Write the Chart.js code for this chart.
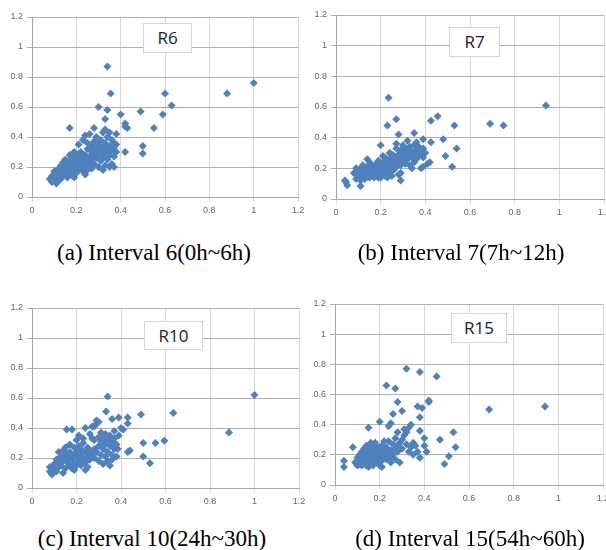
<!DOCTYPE html>
<html>
<head>
<meta charset="utf-8">
<script src="https://cdn.jsdelivr.net/npm/chart.js@4.4.0/dist/chart.umd.min.js"></script>
<style>
  html, body { margin: 0; padding: 0; background: #fff; width: 606px; height: 550px; overflow: hidden; position: relative; }
  canvas { position: absolute; }
  .tag {
    position: absolute; box-sizing: border-box; background: #fff;
    border: 1px solid #d4d4d4; font-family: 'Open Sans', sans-serif;
    font-size: 17px; color: #222; text-align: center;
  }
  .cap {
    position: absolute; font-family: 'Liberation Serif', serif; font-size: 23px;
    line-height: 26px; white-space: nowrap; transform: translateX(-50%); color: #000;
  }
</style>
</head>
<body>
<canvas id="r6"  width="312" height="230" style="left:0;top:0"></canvas>
<canvas id="r7"  width="320" height="230" style="left:303px;top:0"></canvas>
<canvas id="r10" width="312" height="230" style="left:0;top:280px"></canvas>
<canvas id="r15" width="320" height="230" style="left:303px;top:280px"></canvas>

<div class="tag" style="left:143px;top:23px;width:49px;height:30px;line-height:28px">R6</div>
<div class="tag" style="left:449px;top:27px;width:51px;height:30px;line-height:28px">R7</div>
<div class="tag" style="left:144px;top:321px;width:59px;height:29px;line-height:27px">R10</div>
<div class="tag" style="left:451px;top:313px;width:56px;height:30px;line-height:28px">R15</div>

<div class="cap" style="left:154px;top:240px">(a) Interval 6(0h~6h)</div>
<div class="cap" style="left:461px;top:240px">(b) Interval 7(7h~12h)</div>
<div class="cap" style="left:152px;top:526px">(c) Interval 10(24h~30h)</div>
<div class="cap" style="left:470px;top:526px">(d) Interval 15(54h~60h)</div>

<script>
// ── axis ticks (same on every panel) ─────────────────────────────
const tickLabels = ['0', '0.2', '0.4', '0.6', '0.8', '1', '1.2'];

// ── R6 : interval 6 (0h~6h) ─────────────────────────────────────
const r6X = [
  0.08,0.09,0.10,0.11,0.09,0.10,0.11,0.12,0.12,0.13,
  0.13,0.13,0.14,0.14,0.14,0.15,0.15,0.15,0.16,0.16,
  0.16,0.17,0.17,0.17,0.17,0.18,0.18,0.18,0.19,0.19,
  0.19,0.19,0.20,0.20,0.20,0.21,0.21,0.21,0.21,0.22,
  0.22,0.22,0.23,0.23,0.23,0.23,0.24,0.24,0.24,0.24,
  0.25,0.25,0.25,0.25,0.26,0.26,0.26,0.27,0.27,0.27,
  0.27,0.28,0.28,0.28,0.29,0.29,0.30,0.30,0.30,0.31,
  0.31,0.31,0.32,0.32,0.32,0.32,0.33,0.33,0.33,0.33,
  0.34,0.34,0.34,0.35,0.35,0.35,0.35,0.36,0.36,0.36,
  0.37,0.37,0.37,0.38,0.18,0.20,0.22,0.16,0.14,0.12,
  1.00,0.88,0.60,0.63,0.59,0.49,0.55,0.50,0.50,0.34,
  0.355,0.30,0.34,0.33,0.40,0.42,0.43,0.42,0.17,0.38,
  0.37,0.38,0.29,0.28,0.42
];
const r6Y = [
  0.12,0.10,0.11,0.09,0.14,0.17,0.13,0.15,0.19,0.12,
  0.17,0.21,0.14,0.18,0.23,0.16,0.20,0.25,0.13,0.18,
  0.22,0.15,0.19,0.24,0.28,0.17,0.21,0.26,0.13,0.19,
  0.23,0.30,0.16,0.21,0.25,0.18,0.22,0.27,0.35,0.20,
  0.24,0.30,0.17,0.22,0.26,0.38,0.15,0.20,0.28,0.41,
  0.18,0.24,0.32,0.36,0.22,0.27,0.42,0.19,0.25,0.30,
  0.34,0.22,0.28,0.37,0.26,0.32,0.20,0.29,0.35,0.24,
  0.31,0.38,0.18,0.27,0.33,0.43,0.21,0.30,0.36,0.45,
  0.25,0.32,0.40,0.20,0.28,0.34,0.43,0.22,0.31,0.38,
  0.27,0.33,0.20,0.35,0.24,0.28,0.27,0.20,0.16,0.11,
  0.76,0.69,0.69,0.61,0.55,0.57,0.46,0.34,0.29,0.87,
  0.69,0.60,0.58,0.52,0.55,0.49,0.46,0.30,0.46,0.42,
  0.36,0.30,0.40,0.46,0.47
];

// ── R7 : interval 7 (7h~12h) ────────────────────────────────────
const r7X = [
  0.08,0.09,0.09,0.10,0.10,0.11,0.11,0.11,0.12,0.12,
  0.12,0.13,0.13,0.13,0.14,0.14,0.14,0.14,0.15,0.15,
  0.15,0.15,0.16,0.16,0.16,0.17,0.17,0.17,0.18,0.18,
  0.18,0.19,0.19,0.19,0.20,0.20,0.20,0.21,0.21,0.21,
  0.21,0.22,0.22,0.22,0.22,0.23,0.23,0.23,0.24,0.24,
  0.24,0.24,0.25,0.25,0.25,0.26,0.26,0.26,0.27,0.27,
  0.27,0.27,0.28,0.28,0.28,0.29,0.29,0.29,0.30,0.30,
  0.30,0.31,0.31,0.31,0.32,0.32,0.32,0.33,0.33,0.33,
  0.34,0.34,0.34,0.35,0.35,0.35,0.36,0.36,0.37,0.37,
  0.38,0.38,0.39,0.39,0.40,0.36,0.25,0.23,0.19,0.29,
  0.94,0.69,0.75,0.53,0.54,0.52,0.49,0.48,0.455,0.425,
  0.425,0.41,0.235,0.23,0.27,0.28,0.20,0.35,0.39,0.29,
  0.045,0.05,0.11,0.04,0.39,0.42
];
const r7Y = [
  0.17,0.13,0.20,0.15,0.18,0.12,0.16,0.20,0.14,0.18,
  0.22,0.13,0.16,0.19,0.15,0.18,0.21,0.26,0.14,0.17,
  0.20,0.24,0.16,0.19,0.22,0.14,0.18,0.21,0.15,0.19,
  0.23,0.17,0.20,0.25,0.14,0.18,0.22,0.16,0.20,0.24,
  0.28,0.15,0.19,0.23,0.27,0.18,0.21,0.25,0.17,0.22,
  0.26,0.30,0.15,0.20,0.24,0.19,0.23,0.28,0.21,0.26,
  0.33,0.36,0.16,0.24,0.29,0.22,0.27,0.32,0.25,0.30,
  0.35,0.23,0.28,0.33,0.26,0.31,0.38,0.22,0.29,0.34,
  0.27,0.31,0.20,0.24,0.29,0.35,0.26,0.32,0.28,0.34,
  0.20,0.30,0.33,0.27,0.30,0.37,0.29,0.14,0.14,0.17,
  0.61,0.49,0.48,0.48,0.33,0.21,0.28,0.39,0.54,0.51,
  0.37,0.23,0.66,0.48,0.52,0.42,0.35,0.43,0.39,0.12,
  0.11,0.09,0.085,0.12,0.21,0.24
];

// ── R10 : interval 10 (24h~30h) ─────────────────────────────────
const r10X = [
  0.08,0.08,0.09,0.09,0.10,0.10,0.11,0.11,0.12,0.12,
  0.12,0.13,0.13,0.14,0.14,0.15,0.15,0.15,0.16,0.16,
  0.17,0.17,0.17,0.18,0.18,0.19,0.19,0.19,0.20,0.20,
  0.20,0.21,0.21,0.21,0.22,0.22,0.22,0.23,0.23,0.23,
  0.24,0.24,0.24,0.25,0.25,0.25,0.26,0.26,0.26,0.27,
  0.27,0.28,0.28,0.28,0.29,0.29,0.30,0.30,0.30,0.31,
  0.31,0.31,0.32,0.32,0.32,0.33,0.33,0.33,0.34,0.34,
  0.34,0.35,0.35,0.35,0.36,0.36,0.36,0.37,0.37,0.37,
  0.38,0.38,0.39,0.40,0.27,0.14,0.18,0.24,0.16,0.20,
  1.00,0.885,0.635,0.49,0.595,0.555,0.50,0.50,0.53,0.34,
  0.333,0.43,0.39,0.36,0.41,0.156,0.18,0.30,0.28,0.43,
  0.44,0.385,0.29,0.43
];
const r10Y = [
  0.11,0.14,0.09,0.12,0.16,0.13,0.11,0.19,0.14,0.24,
  0.17,0.21,0.15,0.18,0.25,0.13,0.22,0.27,0.17,0.20,
  0.15,0.24,0.29,0.19,0.22,0.12,0.16,0.27,0.21,0.24,
  0.32,0.18,0.28,0.35,0.15,0.22,0.26,0.19,0.30,0.33,
  0.17,0.24,0.40,0.14,0.21,0.27,0.19,0.36,0.24,0.22,
  0.41,0.26,0.20,0.32,0.24,0.43,0.28,0.18,0.34,0.22,
  0.31,0.37,0.26,0.16,0.33,0.29,0.21,0.36,0.24,0.32,
  0.18,0.28,0.35,0.15,0.22,0.31,0.19,0.26,0.33,0.38,
  0.29,0.21,0.35,0.40,0.33,0.10,0.13,0.12,0.23,0.15,
  0.62,0.37,0.50,0.49,0.315,0.30,0.30,0.21,0.165,0.61,
  0.51,0.47,0.47,0.46,0.39,0.39,0.39,0.44,0.41,0.24,
  0.25,0.26,0.45,0.43
];

// ── R15 : interval 15 (54h~60h) ─────────────────────────────────
const r15X = [
  0.09,0.10,0.10,0.11,0.11,0.12,0.12,0.12,0.13,0.13,
  0.13,0.14,0.14,0.14,0.15,0.15,0.15,0.16,0.16,0.16,
  0.16,0.17,0.17,0.17,0.18,0.18,0.18,0.19,0.19,0.19,
  0.20,0.20,0.20,0.21,0.21,0.21,0.22,0.22,0.23,0.23,
  0.24,0.24,0.25,0.25,0.26,0.26,0.27,0.27,0.27,0.28,
  0.28,0.28,0.29,0.29,0.30,0.30,0.31,0.31,0.32,0.32,
  0.33,0.33,0.34,0.34,0.35,0.35,0.36,0.37,0.25,0.22,
  0.11,0.13,0.15,0.17,0.19,0.14,0.16,0.18,0.12,0.20,
  0.94,0.69,0.54,0.53,0.51,0.49,0.47,0.455,0.38,0.32,
  0.23,0.27,0.42,0.39,0.37,0.28,0.30,0.26,0.25,0.38,
  0.38,0.40,0.41,0.38,0.20,0.24,0.15,0.08,0.04,0.04,
  0.21,0.40,0.42
];
const r15Y = [
  0.15,0.13,0.18,0.14,0.20,0.16,0.22,0.13,0.18,0.24,
  0.15,0.20,0.13,0.26,0.17,0.22,0.12,0.19,0.24,0.28,
  0.15,0.21,0.13,0.26,0.17,0.23,0.28,0.15,0.20,0.25,
  0.18,0.22,0.13,0.20,0.26,0.16,0.23,0.19,0.17,0.25,
  0.21,0.29,0.18,0.23,0.27,0.20,0.24,0.31,0.17,0.26,
  0.22,0.35,0.28,0.15,0.30,0.24,0.33,0.37,0.35,0.27,
  0.38,0.22,0.40,0.25,0.28,0.20,0.26,0.22,0.15,0.29,
  0.17,0.21,0.19,0.24,0.22,0.23,0.21,0.20,0.19,0.25,
  0.52,0.50,0.25,0.35,0.19,0.14,0.30,0.72,0.75,0.77,
  0.66,0.64,0.55,0.51,0.52,0.55,0.49,0.47,0.41,0.45,
  0.36,0.31,0.22,0.18,0.42,0.39,0.38,0.25,0.16,0.12,
  0.12,0.26,0.56
];

// plot area inside each canvas (left, top, right, bottom)
function drawPanel(id, xs, ys, area) {
  const canvas = document.getElementById(id);
  if (!canvas) return;
  const W = canvas.width, H = canvas.height;
  const points = xs.map((x, i) => ({ x: x, y: ys[i] }));
  const tickFont = { family: 'Liberation Sans', size: 9 };

  new Chart(canvas.getContext('2d'), {
    type: 'scatter',
    data: {
      datasets: [{
        data:            points,
        pointStyle:      'rectRot',
        pointRadius:     4,
        backgroundColor: '#4f81bd',
        borderColor:     '#4f81bd',
        borderWidth:     0,
      }]
    },
    options: {
      responsive: false,
      animation:  false,
      layout: { padding: { left: 0, top: area.top, right: W - area.right, bottom: 0 } },
      plugins: {
        legend:  { display: false },
        tooltip: { enabled: false }
      },
      scales: {
        x: {
          type: 'linear', min: 0, max: 1.2,
          ticks:  { stepSize: 0.2, callback: (v, i) => tickLabels[i], color: '#666',
                    font: tickFont, padding: 3, maxRotation: 0, autoSkip: false },
          grid:   { color: '#d9d9d9', tickLength: 5 },
          border: { color: '#a6a6a6' },
          afterFit: (s) => { s.height = H - area.bottom; }
        },
        y: {
          type: 'linear', min: 0, max: 1.2,
          ticks:  { stepSize: 0.2, callback: (v, i) => tickLabels[i], color: '#666',
                    font: tickFont, padding: 4 },
          grid:   { color: '#b0b0b0', tickLength: 5 },
          border: { color: '#a6a6a6' },
          afterFit: (s) => { s.width = area.left; }
        }
      }
    }
  });
}

window.addEventListener('DOMContentLoaded', () => {
  drawPanel('r6',  r6X,  r6Y,  { left: 32, top: 17, right: 298, bottom: 197 });
  drawPanel('r7',  r7X,  r7Y,  { left: 33, top: 15, right: 301, bottom: 199 });
  drawPanel('r10', r10X, r10Y, { left: 32, top: 28, right: 299, bottom: 208 });
  drawPanel('r15', r15X, r15Y, { left: 32, top: 24, right: 300, bottom: 205 });
});
</script>
</body>
</html>
